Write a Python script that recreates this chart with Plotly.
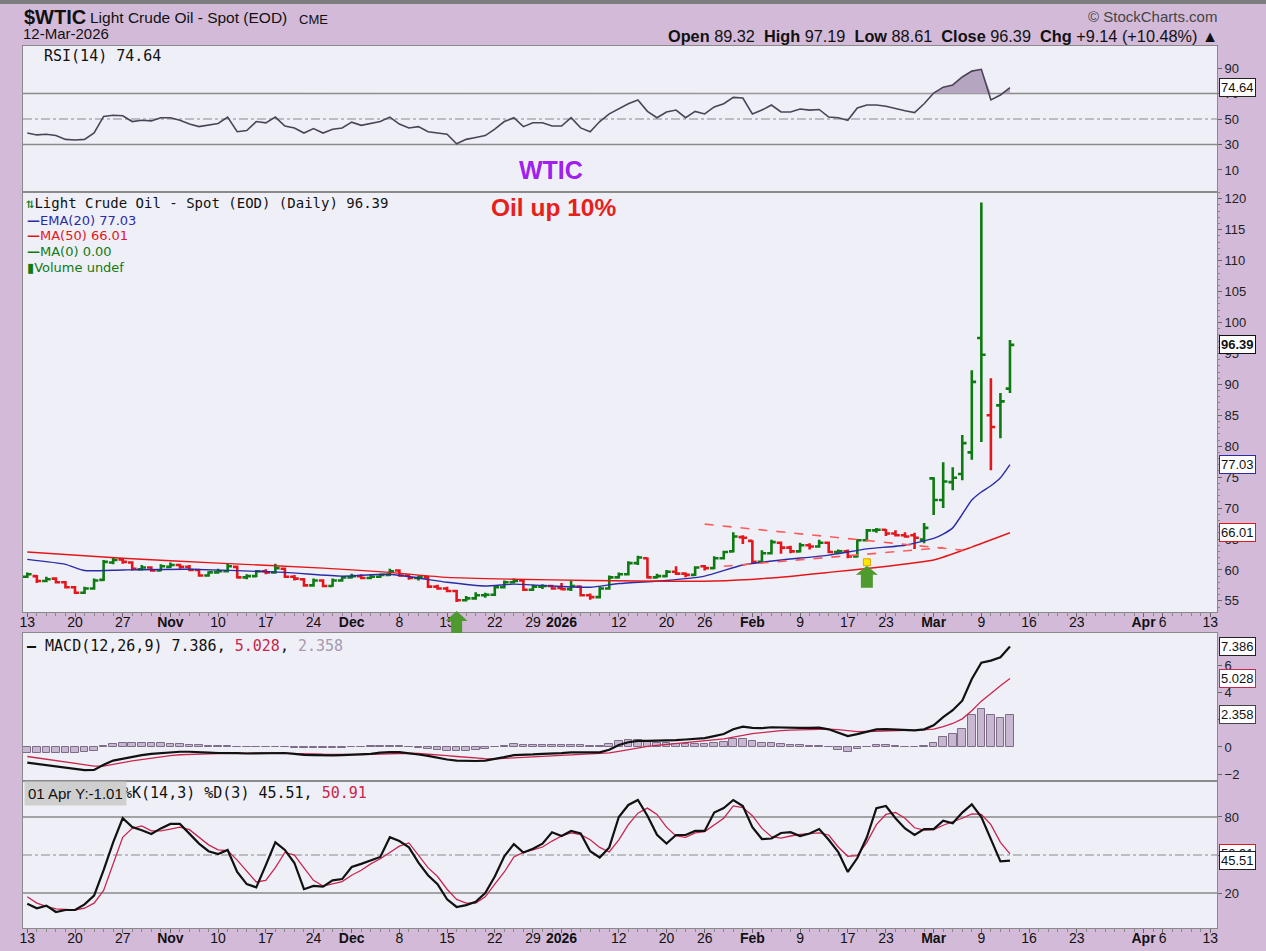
import pandas as pd
import plotly.graph_objects as go
from plotly.subplots import make_subplots

# ---------------- trading calendar (categories) ----------------
holidays = ["2025-11-27", "2025-12-25", "2026-01-01", "2026-01-19", "2026-02-16", "2026-04-03"]
axis_dates = [d.strftime("%Y-%m-%d") for d in pd.bdate_range("2025-10-13", "2026-04-13")
              if d.strftime("%Y-%m-%d") not in holidays]
pos = {d: i for i, d in enumerate(axis_dates)}
data_dates = [d for d in axis_dates if d <= "2026-03-12"]

# ---------------- price data ----------------
opens = [58.9, 59.0, 58.2, 58.6, 58.0, 57.2, 56.3, 57.0, 58.4, 61.2,
         61.7, 61.2, 60.1, 60.4, 59.9, 60.5, 60.8, 60.5, 60.0, 59.1,
         59.6, 59.8, 60.5, 58.8, 59.0, 59.8, 59.6, 60.2, 58.9, 58.5,
         57.5, 58.3, 57.4, 58.3, 58.8, 59.0, 58.7, 58.9, 59.2, 59.9,
         59.1, 58.7, 58.8, 57.3, 57.0, 56.6, 55.1, 55.4, 55.9, 56.0,
         57.2, 58.0, 58.3, 56.8, 57.3, 57.4, 57.1, 56.9, 57.3, 55.9,
         55.6, 57.0, 58.8, 59.3, 61.1, 61.9, 58.8, 59.0, 59.7, 59.4,
         59.2, 60.6, 60.3, 61.9, 63.0, 65.3, 64.7, 61.3, 62.7, 64.4,
         63.6, 63.0, 64.0, 63.8, 64.4, 62.9, 63.0, 62.2, 64.8, 66.4,
         66.5, 65.9, 65.6, 65.6, 64.9, 74.8, 71.3, 74.2, 75.5, 79.0,
         97.5, 85.0, 86.6, 89.32]
highs = [59.6, 59.2, 58.9, 58.8, 58.2, 57.4, 57.3, 58.6, 61.6, 62.0,
         61.9, 61.4, 60.8, 60.6, 60.9, 61.2, 61.0, 60.8, 60.2, 59.8,
         60.2, 61.0, 60.7, 59.3, 60.0, 60.1, 61.0, 60.4, 59.2, 58.7,
         58.6, 58.5, 58.6, 59.0, 59.4, 59.3, 59.2, 59.4, 60.2, 60.1,
         59.3, 59.1, 59.0, 57.6, 57.3, 56.8, 55.8, 56.4, 56.3, 57.5,
         58.3, 58.6, 58.5, 57.6, 57.7, 57.6, 57.9, 58.2, 57.5, 56.2,
         57.3, 59.1, 59.6, 61.4, 62.3, 62.0, 59.4, 60.0, 60.6, 59.6,
         60.6, 60.8, 62.2, 63.1, 66.1, 65.6, 64.8, 63.2, 64.9, 64.6,
         63.9, 64.4, 64.3, 64.9, 64.6, 63.3, 63.3, 65.0, 66.6, 66.8,
         66.6, 66.4, 66.1, 66.0, 67.6, 75.0, 77.4, 76.6, 81.8, 92.3,
         119.4, 91.0, 88.6, 97.19]
lows = [58.7, 57.9, 58.0, 57.8, 57.0, 56.1, 56.1, 56.8, 58.2, 60.9,
        61.0, 59.9, 59.9, 59.7, 59.8, 60.3, 60.2, 59.8, 58.9, 58.9,
        59.4, 59.6, 58.6, 58.5, 58.8, 59.3, 59.4, 58.7, 58.3, 57.3,
        57.3, 57.2, 57.3, 58.1, 58.6, 58.5, 58.5, 58.7, 59.0, 58.9,
        58.4, 58.3, 57.1, 56.8, 56.4, 54.8, 54.9, 55.2, 55.5, 55.8,
        57.0, 57.8, 56.6, 56.6, 56.9, 56.8, 56.7, 56.6, 55.7, 55.2,
        55.4, 56.8, 58.6, 59.1, 60.8, 58.6, 58.6, 58.8, 59.2, 58.8,
        59.0, 59.9, 60.1, 61.7, 62.8, 64.2, 61.0, 61.1, 62.5, 62.6,
        62.7, 62.8, 63.3, 63.6, 62.7, 62.6, 61.9, 62.0, 64.6, 66.0,
        65.5, 65.4, 65.2, 63.4, 64.3, 68.9, 70.0, 72.9, 74.5, 77.8,
        80.7, 76.1, 81.3, 88.61]
closes = [59.3, 58.2, 58.5, 58.0, 57.2, 56.3, 57.0, 58.3, 61.3, 61.6,
          61.3, 60.2, 60.4, 59.9, 60.6, 60.8, 60.5, 60.0, 59.1, 59.6,
          59.8, 60.6, 58.8, 59.0, 59.8, 59.6, 60.3, 58.9, 58.6, 57.5,
          58.3, 57.4, 58.3, 58.8, 59.0, 58.7, 58.9, 59.2, 59.8, 59.1,
          58.7, 58.9, 57.3, 57.0, 56.6, 55.1, 55.4, 55.9, 56.0, 57.2,
          58.0, 58.2, 56.8, 57.3, 57.4, 57.0, 56.9, 57.4, 55.9, 55.6,
          57.0, 58.8, 59.3, 61.1, 62.0, 58.8, 59.0, 59.7, 59.4, 59.2,
          60.4, 60.3, 61.9, 62.9, 65.4, 65.2, 61.3, 62.7, 64.5, 63.6,
          63.0, 64.0, 63.8, 64.4, 62.9, 63.0, 62.2, 64.8, 66.4, 66.5,
          65.9, 65.6, 65.4, 65.2, 66.8, 71.3, 74.3, 74.9, 80.5, 90.4,
          94.8, 83.1, 87.25, 96.39]

ema_dates = ["2025-10-13", "2025-10-17", "2025-10-21", "2025-10-27", "2025-11-05", "2025-11-19",
             "2025-11-28", "2025-12-05", "2025-12-15", "2025-12-19", "2025-12-24", "2025-12-31",
             "2026-01-07", "2026-01-12", "2026-01-20", "2026-01-26", "2026-01-30", "2026-02-05",
             "2026-02-12", "2026-02-19", "2026-02-25", "2026-03-02", "2026-03-03", "2026-03-04",
             "2026-03-05", "2026-03-06", "2026-03-09", "2026-03-10", "2026-03-11", "2026-03-12"]
ema20 = [61.7, 60.9, 59.9, 60.0, 60.1, 59.6, 59.0, 59.3, 58.0, 57.4, 57.7, 57.4,
         57.2, 57.8, 58.3, 59.0, 60.8, 61.6, 62.4, 63.4, 64.0, 65.1, 65.8, 66.8,
         69.0, 71.3, 72.6, 73.6, 74.9, 77.03]
ma_dates = ["2025-10-13", "2025-10-27", "2025-11-10", "2025-11-25", "2025-12-05", "2025-12-15",
            "2025-12-24", "2026-01-07", "2026-01-14", "2026-01-27", "2026-02-04", "2026-02-12",
            "2026-02-20", "2026-03-02", "2026-03-06", "2026-03-12"]
ma50 = [62.9, 61.9, 61.1, 60.3, 59.6, 58.8, 58.5, 58.3, 58.2, 58.2, 58.7, 59.6,
        60.4, 61.6, 63.7, 66.01]

# ---------------- indicators ----------------
rsi = [39, 37.5, 38, 37, 34, 33.5, 34, 39, 52, 53,
       52.5, 48, 49, 48.5, 51, 51, 49, 46, 44, 45,
       46.5, 51.5, 40, 41, 48, 47, 51.5, 44.5, 43, 39,
       42.5, 39, 42, 43, 47.5, 45, 46.5, 48, 51.5, 46,
       43, 44, 40, 39, 38, 30.5, 34, 35.5, 37, 42,
       48, 51, 44, 47, 47, 44.5, 44.5, 51, 43, 40,
       48, 54, 58, 62, 65, 56, 51, 55.5, 57, 51,
       56, 54, 59.5, 62, 67, 66.5, 54, 57, 61, 55.5,
       55.5, 57.8, 57, 57.5, 51.5, 51, 49, 58.6, 61, 61,
       60, 58, 56.5, 55, 62, 70.4, 75, 76.7, 83, 87.6,
       89, 65, 68.8, 74.64]
macd = [-1.15, -1.25, -1.35, -1.45, -1.55, -1.65, -1.7, -1.68, -1.3, -1.0,
        -0.85, -0.7, -0.6, -0.5, -0.45, -0.38, -0.35, -0.35, -0.4, -0.42,
        -0.44, -0.42, -0.45, -0.48, -0.46, -0.45, -0.44, -0.44, -0.5, -0.58,
        -0.6, -0.62, -0.62, -0.6, -0.58, -0.56, -0.5, -0.42, -0.37, -0.38,
        -0.45, -0.55, -0.65, -0.8, -0.92, -1.0, -1.03, -1.03, -1.0, -0.9,
        -0.75, -0.6, -0.6, -0.55, -0.5, -0.5, -0.45, -0.4, -0.4, -0.45,
        -0.4, -0.2, 0.15, 0.35, 0.45, 0.45, 0.45, 0.45, 0.5, 0.55,
        0.6, 0.65, 0.8, 0.95, 1.3, 1.5, 1.4, 1.38, 1.45, 1.42,
        1.38, 1.4, 1.4, 1.42, 1.3, 1.05, 0.8, 0.95, 1.15, 1.3,
        1.32, 1.3, 1.25, 1.22, 1.3, 1.6, 2.2, 2.7, 3.4, 5.0,
        6.2, 6.35, 6.6, 7.386]
signal = [-0.7, -0.8, -0.9, -1.0, -1.1, -1.2, -1.3, -1.4, -1.4, -1.25,
          -1.15, -1.02, -0.92, -0.8, -0.73, -0.63, -0.57, -0.53, -0.52, -0.5,
          -0.48, -0.46, -0.45, -0.45, -0.45, -0.45, -0.45, -0.45, -0.46, -0.48,
          -0.5, -0.53, -0.55, -0.56, -0.56, -0.56, -0.55, -0.52, -0.48, -0.46,
          -0.46, -0.48, -0.52, -0.57, -0.64, -0.7, -0.77, -0.82, -0.86, -0.87,
          -0.85, -0.8, -0.76, -0.72, -0.68, -0.64, -0.6, -0.56, -0.53, -0.51,
          -0.49, -0.43, -0.32, -0.19, -0.06, 0.04, 0.12, 0.19, 0.25, 0.31,
          0.37, 0.43, 0.5, 0.59, 0.73, 0.88, 0.98, 1.06, 1.14, 1.2,
          1.24, 1.27, 1.3, 1.33, 1.32, 1.27, 1.18, 1.13, 1.14, 1.17,
          1.2, 1.22, 1.22, 1.22, 1.24, 1.31, 1.49, 1.73, 2.07, 2.66,
          3.37, 3.97, 4.5, 5.028]
hist = [-0.45, -0.45, -0.45, -0.45, -0.45, -0.45, -0.4, -0.28, 0.1, 0.25,
        0.3, 0.32, 0.32, 0.3, 0.28, 0.25, 0.22, 0.18, 0.12, 0.08,
        0.04, 0.04, 0.0, -0.03, -0.01, 0.0, 0.01, 0.01, -0.04, -0.1,
        -0.1, -0.09, -0.07, -0.04, -0.02, 0.0, 0.05, 0.1, 0.11, 0.08,
        0.01, -0.07, -0.13, -0.23, -0.28, -0.3, -0.26, -0.21, -0.14, -0.03,
        0.1, 0.2, 0.16, 0.17, 0.18, 0.14, 0.15, 0.16, 0.13, 0.06,
        0.09, 0.23, 0.47, 0.54, 0.51, 0.41, 0.33, 0.26, 0.25, 0.24,
        0.23, 0.22, 0.3, 0.36, 0.57, 0.62, 0.42, 0.32, 0.31, 0.22,
        0.14, 0.13, 0.1, 0.09, -0.02, -0.22, -0.38, -0.18, 0.01, 0.13,
        0.12, 0.08, 0.03, 0.0, 0.06, 0.29, 0.71, 0.97, 1.33, 2.34,
        2.83, 2.38, 2.1, 2.358]
stoch_k = [11.5, 8, 10, 5, 6.6, 6.6, 11, 18, 38, 60,
           79, 72, 69.5, 66.6, 71, 74.5, 74.5, 67, 59, 53,
           50.8, 54, 36.6, 27, 24.5, 42, 60, 54, 43.7, 23,
           25.6, 25, 30, 31, 40.5, 43, 45.5, 48.5, 64, 61,
           56, 44, 34, 27, 15, 9, 10.5, 13, 20, 33,
           49, 58.6, 52, 55, 59, 68, 65, 69, 67, 53,
           48, 56, 80, 89.5, 93.4, 81, 66, 59, 65.8, 65.8,
           69, 69, 83.5, 87, 93.4, 88.7, 72, 62.6, 63, 67.4,
           68, 65, 67, 70.5, 62, 52.4, 36.6, 47.6, 64, 87,
           88.7, 79, 71, 65.8, 70.5, 70.5, 77, 75, 83.5, 90,
           80, 63, 45, 45.51]
stoch_d = [17, 12, 9.5, 7.5, 7, 6.6, 8, 12, 22, 43,
           64, 71, 73, 69, 69, 70.5, 72, 70, 64, 58,
           54, 53.5, 46, 37, 28.7, 30, 40, 52, 50, 39.8,
           30, 25.5, 27, 29, 34, 38, 43, 47, 52, 57,
           59.5, 50, 40, 33, 23, 15, 12, 12, 17, 27,
           36.6, 48.5, 52, 54, 56.3, 61, 65, 67.4, 66, 62,
           56, 52.4, 62, 74, 83, 87, 82, 72, 65, 64,
           67.5, 68.5, 74, 79, 88.7, 87.5, 81, 71, 64.5, 63.4,
           65, 66.3, 66.8, 67.4, 65.8, 56.3, 49, 49.5, 60, 74,
           82, 83.5, 79, 71.5, 69.7, 70, 73.5, 76, 79, 82.5,
           82, 74, 60, 50.91]

# ---------------- axis tick labels ----------------
tick_dates = ["2025-10-13", "2025-10-20", "2025-10-27", "2025-11-03", "2025-11-10", "2025-11-17",
              "2025-11-24", "2025-12-01", "2025-12-08", "2025-12-15", "2025-12-22", "2025-12-29",
              "2026-01-02", "2026-01-12", "2026-01-20", "2026-01-26", "2026-02-02", "2026-02-09",
              "2026-02-17", "2026-02-23", "2026-03-02", "2026-03-09", "2026-03-16", "2026-03-23",
              "2026-04-01", "2026-04-06", "2026-04-13"]
tick_text = ["13", "20", "27", "<b>Nov</b>", "10", "17", "24", "<b>Dec</b>", "8", "15", "22", "29",
             "<b>2026</b>", "12", "20", "26", "<b>Feb</b>", "9", "17", "23", "<b>Mar</b>", "9", "16",
             "23", "<b>Apr</b>", "6", "13"]

# annotation anchors (date, price)
trend_upper = (["2026-01-26", "2026-03-05"], [67.4, 63.2])
trend_lower = (["2026-01-28", "2026-03-03"], [60.6, 63.6])
arrow_dates = ["2025-12-16", "2026-02-19"]

# ---------------- geometry / style ----------------
W, H = 1266, 951
L, R, T, B = 23, 1217, 46, 928
XMIN, XMAX = -0.45, 124.7
P_TOP, P_BOT = 121.1, 53.2
BG = "#d3bad9"
PANEL = "#eff0f7"
GREEN = "#0e7a12"
RED = "#e3161b"
BLUE = "#2b2ba8"
CRIMSON = "#c8264e"
MONO = "DejaVu Sans Mono"
SANS = "Liberation Sans"


def px(v):
    return (v - L) / (R - L)


def py(v):
    return (B - v) / (B - T)


def xpix(i):
    return L + (i - XMIN) / (XMAX - XMIN) * (R - L)


def price_pix(p):
    return 192 + (P_TOP - p) / (P_TOP - P_BOT) * (612 - 192)


x = [pos[d] for d in data_dates]
n = len(x)

fig = make_subplots(rows=4, cols=1, shared_xaxes=True, vertical_spacing=0)

# RSI
fig.add_trace(go.Scatter(x=x, y=[70] * n, mode="lines", line=dict(width=0, color="rgba(0,0,0,0)"),
                         hoverinfo="skip"), row=1, col=1)
fig.add_trace(go.Scatter(x=x, y=[max(v, 70) for v in rsi], mode="lines", line=dict(width=0),
                         fill="tonexty", fillcolor="#b6a5c0", hoverinfo="skip"), row=1, col=1)
fig.add_trace(go.Scatter(x=x, y=rsi, mode="lines", line=dict(color="#4a4457", width=1.6)), row=1, col=1)

# price bars coloured vs previous close
up = [i == 0 or closes[i] >= closes[i - 1] for i in range(n)]
for flag, col in ((True, GREEN), (False, RED)):
    idx = [i for i in range(n) if up[i] == flag]
    fig.add_trace(go.Ohlc(x=[x[i] for i in idx], open=[opens[i] for i in idx], high=[highs[i] for i in idx],
                          low=[lows[i] for i in idx], close=[closes[i] for i in idx],
                          increasing=dict(line=dict(color=col, width=2.6)),
                          decreasing=dict(line=dict(color=col, width=2.6)),
                          tickwidth=0.45, hoverinfo="skip"), row=2, col=1)
fig.add_trace(go.Scatter(x=[pos[d] for d in ema_dates], y=ema20, mode="lines",
                         line=dict(color=BLUE, width=1.4, shape="spline", smoothing=0.5)), row=2, col=1)
fig.add_trace(go.Scatter(x=[pos[d] for d in ma_dates], y=ma50, mode="lines",
                         line=dict(color=RED, width=1.4, shape="spline", smoothing=0.5)), row=2, col=1)
for tl in (trend_upper, trend_lower):
    fig.add_trace(go.Scatter(x=[pos[d] for d in tl[0]], y=tl[1], mode="lines",
                             line=dict(color="#ff5a5a", width=1.6, dash="dash")), row=2, col=1)

# MACD
fig.add_trace(go.Bar(x=x, y=hist, width=0.8, marker=dict(color="#c8b7d1", line=dict(color="#7d6c88", width=1))),
              row=3, col=1)
fig.add_trace(go.Scatter(x=x, y=signal, mode="lines", line=dict(color=CRIMSON, width=1.3)), row=3, col=1)
fig.add_trace(go.Scatter(x=x, y=macd, mode="lines", line=dict(color="#111111", width=2.2)), row=3, col=1)

# Stochastics
fig.add_trace(go.Scatter(x=x, y=stoch_d, mode="lines", line=dict(color=CRIMSON, width=1.3)), row=4, col=1)
fig.add_trace(go.Scatter(x=x, y=stoch_k, mode="lines", line=dict(color="#111111", width=2.2)), row=4, col=1)

fig.update_layout(width=W, height=H, margin=dict(l=L, r=W - R, t=T, b=H - B, autoexpand=False),
                  paper_bgcolor=BG, plot_bgcolor=PANEL, showlegend=False, bargap=0,
                  font=dict(family=SANS, size=13, color="#222"))

# y axes
ycommon = dict(side="right", showgrid=False, zeroline=False, showline=True, mirror=True, automargin=False,
               linecolor="#8a8a8a", linewidth=1, ticks="outside", ticklen=4, tickcolor="#666",
               tickfont=dict(family=SANS, size=13, color="#222"), fixedrange=True)
fig.update_layout(
    yaxis=dict(ycommon, domain=[py(192), 1], range=[-7.3, 107.3], tickvals=[10, 30, 50, 70, 90]),
    yaxis2=dict(ycommon, domain=[py(612), py(192)], range=[P_BOT, P_TOP], tick0=0, dtick=5,
                minor=dict(ticks="outside", ticklen=2, dtick=1, tickcolor="#888")),
    yaxis3=dict(ycommon, domain=[py(781), py(633)], range=[-2.5, 8.38], tickvals=[-2, 0, 2, 4, 6]),
    yaxis4=dict(ycommon, domain=[0, py(781)], range=[-7.6, 108.4], tickvals=[20, 50, 80]),
)

# x axes
xcommon = dict(range=[XMIN, XMAX], showgrid=False, zeroline=False, showline=True, mirror=True,
               automargin=False, linecolor="#8a8a8a", linewidth=1, tickmode="array",
               tickvals=[pos[d] for d in tick_dates], ticktext=tick_text,
               tickfont=dict(family=SANS, size=14, color="#111"), rangeslider=dict(visible=False))
for k, shown in ((1, False), (2, True), (3, False), (4, True)):
    extra = dict(ticks="outside", ticklen=4, tickcolor="#666", showticklabels=True, ticklabelstandoff=-7,
                 minor=dict(ticks="outside", ticklen=3, tickmode="linear", tick0=0, dtick=1, tickcolor="#888")) \
        if shown else dict(ticks="", showticklabels=False)
    fig.update_layout({("xaxis" if k == 1 else f"xaxis{k}"): dict(xcommon, **extra)})

# horizontal reference lines
for yref, xref, lvls in (("y", "x domain", (70, 30)), ("y4", "x4 domain", (80, 20))):
    for v in lvls:
        fig.add_shape(type="line", xref=xref, yref=yref, x0=0, x1=1, y0=v, y1=v,
                      line=dict(color="#8a8a8a", width=1.5), layer="below")
    mid = 50
    fig.add_shape(type="line", xref=xref, yref=yref, x0=0, x1=1, y0=mid, y1=mid,
                  line=dict(color="#8a8a8a", width=1.2, dash="dashdot"), layer="below")

# top chrome strip
fig.add_shape(type="rect", xref="paper", yref="paper", x0=px(0), x1=px(W), y0=py(4), y1=py(0),
              fillcolor="#7c7c7c", line=dict(width=0))


# green arrows
def arrow_path(cx, tip, bot, head_w, head_h, stem_w):
    pts = [(cx - head_w / 2, tip + head_h), (cx, tip), (cx + head_w / 2, tip + head_h),
           (cx + stem_w / 2, tip + head_h), (cx + stem_w / 2, bot), (cx - stem_w / 2, bot),
           (cx - stem_w / 2, tip + head_h)]
    return "M " + " L ".join(f"{px(a):.5f},{py(b):.5f}" for a, b in pts) + " Z"


a1 = xpix(pos[arrow_dates[0]])
fig.add_shape(type="path", xref="paper", yref="paper", path=arrow_path(a1, 611, 633, 22, 10, 11),
              fillcolor="#4f9a2e", line=dict(width=0))
a2 = xpix(pos[arrow_dates[1]])
tip2 = price_pix(61.0)
fig.add_shape(type="path", xref="paper", yref="paper", path=arrow_path(a2, tip2 + 2, tip2 + 24, 22, 9, 12),
              fillcolor="#4f9a2e", line=dict(width=0))
fig.add_shape(type="rect", xref="paper", yref="paper", x0=px(a2 - 3.5), x1=px(a2 + 3.5),
              y0=py(tip2 + 2), y1=py(tip2 - 5), fillcolor="#ffe800", line=dict(color="#e8a000", width=1))

ann = []


def text(t, xp, yp, size, color="#111", family=SANS, xanchor="left", **kw):
    ann.append(dict(text=t, x=px(xp), y=py(yp), xref="paper", yref="paper", xanchor=xanchor,
                    yanchor="middle", showarrow=False, font=dict(family=family, size=size, color=color), **kw))


# header
text("<b>$WTIC</b>", 22, 17, 20, "#111")
text("Light Crude Oil - Spot (EOD)", 88, 18, 15.5, "#111")
text("CME", 297, 19, 13, "#111")
text("12-Mar-2026", 21, 34, 15, "#111")
text("© StockCharts.com", 1219, 17, 15, "#444", xanchor="right")
text("<b>Open</b> 89.32  <b>High</b> 97.19  <b>Low</b> 88.61  <b>Close</b> 96.39  "
     "<b>Chg</b> +9.14 (+10.48%) ▲", 1220, 36, 16.3, "#111", xanchor="right")

# panel legends
text("RSI(14) 74.64", 42, 56, 15, "#111", MONO)
text("<b>WTIC</b>", 551, 170, 25, "#a020f0", xanchor="center")
text("<b>Oil up 10%</b>", 553, 208, 24.5, "#e8201a", xanchor="center")
text("<span style='color:#0e7a12'>⇅</span>Light Crude Oil - Spot (EOD) (Daily) 96.39", 24, 203, 14, "#111", MONO)
text("<b>—</b>EMA(20) 77.03", 25, 220, 13, BLUE, "DejaVu Sans")
text("<b>—</b>MA(50) 66.01", 25, 236, 13, RED, "DejaVu Sans")
text("<b>—</b>MA(0) 0.00", 25, 252, 13, GREEN, "DejaVu Sans")
text("▮Volume undef", 25, 268, 13, GREEN, "DejaVu Sans")
text("<b>—</b> MACD(12,26,9) 7.386, <span style='color:#c8264e'>5.028</span>, "
     "<span style='color:#a898ae'>2.358</span>", 25, 646, 15, "#111", MONO)
text("%K(14,3) %D(3) 45.51, <span style='color:#c8264e'>50.91</span>", 121, 793, 15, "#111", MONO)
text("01 Apr Y:-1.01", 24, 793, 15, "#111", bgcolor="#cfcfcf", borderpad=3)


# right-hand value boxes
def vbox(t, yref, yv, border, color="#111", bold=False):
    ann.append(dict(text=f"<b>{t}</b>" if bold else t, x=1, xref="paper", xanchor="left", xshift=2,
                    y=yv, yref=yref, yanchor="middle", showarrow=False,
                    font=dict(family=SANS, size=13, color=color), bgcolor="white",
                    bordercolor=border, borderwidth=1, borderpad=1))


vbox("74.64", "y", 74.64, "#222")
vbox("96.39", "y2", 96.39, "#111", bold=True)
vbox("77.03", "y2", 77.03, BLUE)
vbox("66.01", "y2", 66.01, RED)
vbox("7.386", "y3", 7.386, "#222")
vbox("5.028", "y3", 5.028, CRIMSON)
vbox("2.358", "y3", 2.358, "#444")
vbox("50.91", "y4", 50.91, RED)
vbox("45.51", "y4", 45.51, "#222")

fig.update_layout(annotations=ann)
fig.write_html("out.html", config={"displayModeBar": False},
               post_script="document.body.style.margin='0';document.body.style.background='" + BG + "';")
